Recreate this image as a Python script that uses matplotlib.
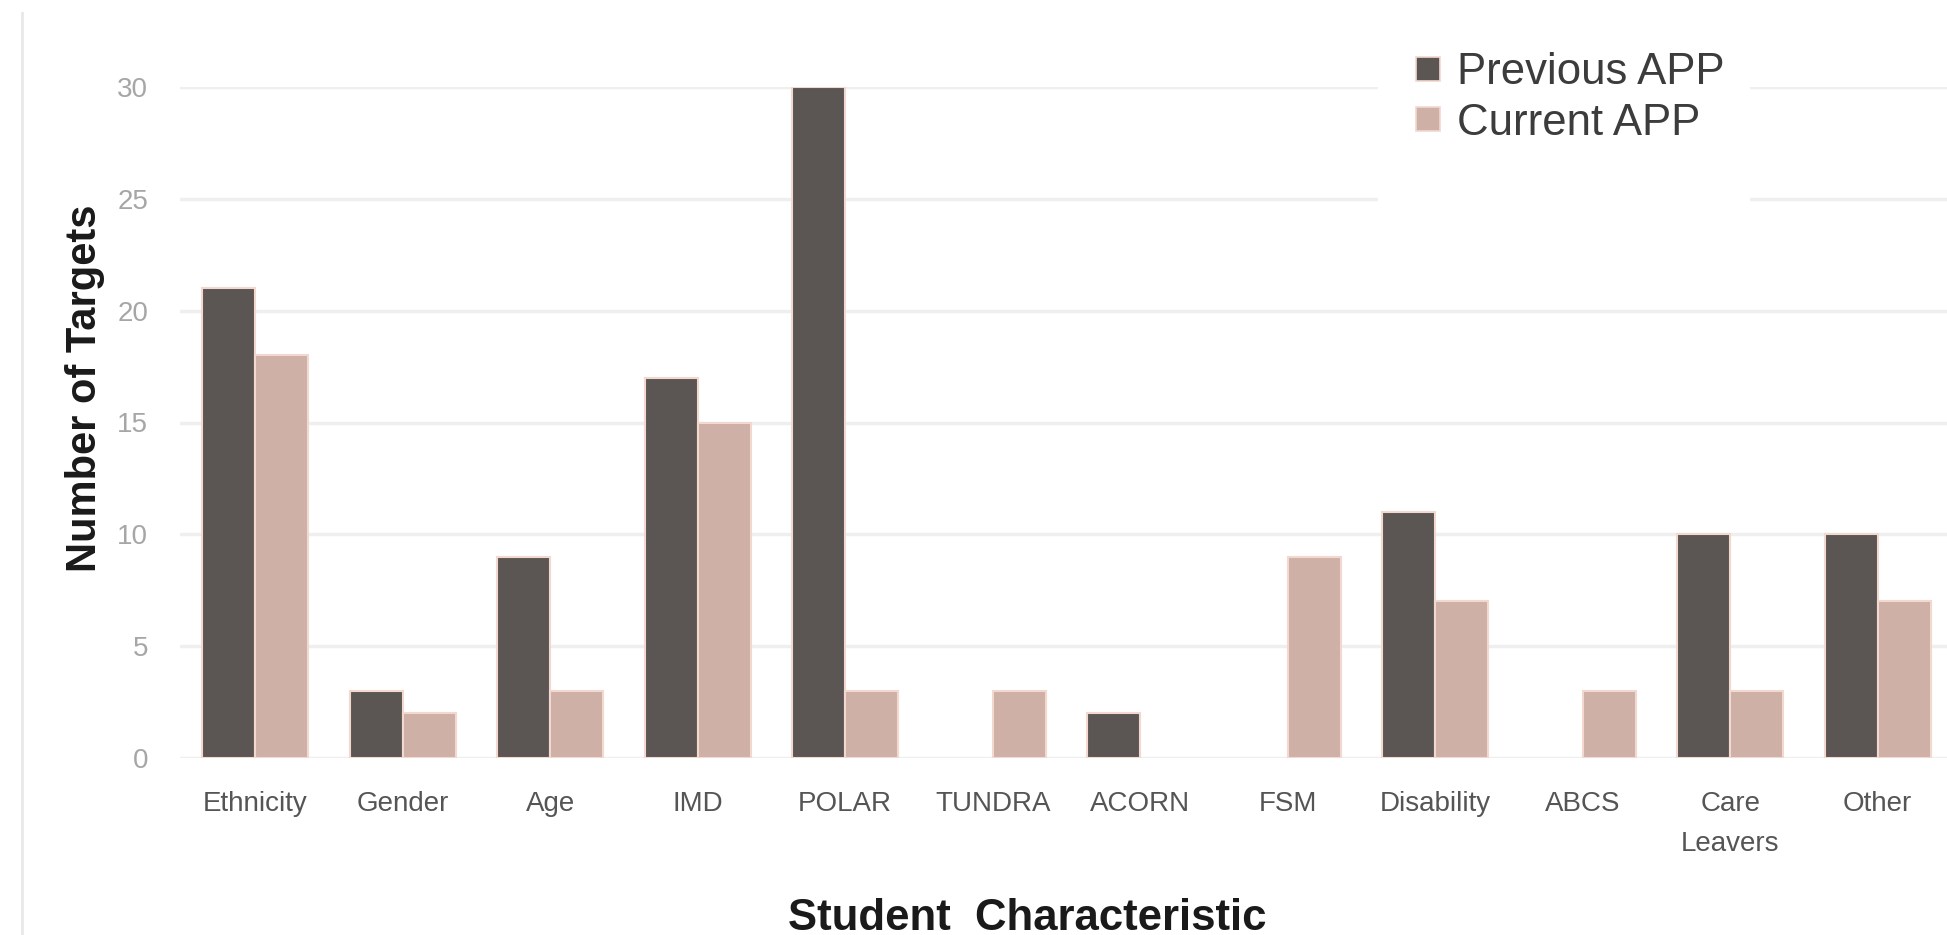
import matplotlib
matplotlib.use("Agg")
import matplotlib.pyplot as plt
import numpy as np
from matplotlib.lines import Line2D
from matplotlib.patches import Rectangle

plt.rcParams['font.family'] = ['Liberation Sans', 'DejaVu Sans']

categories = ["Ethnicity", "Gender", "Age", "IMD", "POLAR", "TUNDRA", "ACORN",
              "FSM", "Disability", "ABCS", "Care\nLeavers", "Other"]
previous_app = [21, 3, 9, 17, 30, 0, 2, 0, 11, 0, 10, 10]
current_app = [18, 2, 3, 15, 3, 3, 0, 9, 7, 3, 3, 7]
y_ticks = [0, 5, 10, 15, 20, 25, 30]

W, H = 1947, 935
fig = plt.figure(figsize=(W / 100, H / 100), dpi=100)
fig.patch.set_facecolor("white")

ax = fig.add_axes([180 / W, (H - 758) / H, 1 - 180 / W, (758 - 87) / H])

dark = "#5b5653"
pink = "#cfb0a6"
edge = "#f3d8cf"
x = np.arange(len(categories))
bw = 0.36


def edges(values):
    # no outline on empty bars
    return [edge if v > 0 else "none" for v in values]


ax.bar(x - bw / 2, previous_app, bw, color=dark, edgecolor=edges(previous_app),
       linewidth=1.5, label="Previous APP", zorder=2)
ax.bar(x + bw / 2, current_app, bw, color=pink, edgecolor=edges(current_app),
       linewidth=1.5, label="Current APP", zorder=2)

ax.set_xlim(-0.51, 11.47)
ax.set_ylim(0, 30)
ax.set_yticks(y_ticks)
ax.set_xticks(x)
ax.set_xticklabels(categories, fontsize=20, color="#555555", linespacing=1.68)
ax.tick_params(axis="y", labelsize=20, labelcolor="#a6a6a6", length=0, pad=23)
ax.tick_params(axis="x", length=0, pad=24)

ax.grid(axis="y", color="#efefef", linewidth=2.5, zorder=0)
ax.set_axisbelow(True)
for s in ax.spines.values():
    s.set_visible(False)

# white panel behind the legend, interrupting the gridlines
ax.add_patch(Rectangle((1378, H - 215), 372, 185, transform=None,
                       facecolor="white", edgecolor="none", zorder=1.5))

handles = [Line2D([], [], marker="s", linestyle="none", markersize=17,
                  markerfacecolor=c, markeredgecolor=edge, markeredgewidth=1.2)
           for c in (dark, pink)]
leg = fig.legend(handles, ["Previous APP", "Current APP"],
                 loc="upper left", bbox_to_anchor=(1415 / W, (H - 52) / H),
                 frameon=False, fontsize=31.5, labelcolor="#3c3c3c",
                 handlelength=0.6, handletextpad=0.35, labelspacing=0.22,
                 borderpad=0, borderaxespad=0)

fig.text(85 / W, (H - 388) / H, "Number of Targets", rotation=90,
         fontsize=30, fontweight="bold", color="#1a1a1a",
         ha="center", va="center")
fig.text(1027 / W, (H - 918) / H, "Student  Characteristic",
         fontsize=31.5, fontweight="bold", color="#1a1a1a",
         ha="center", va="center")

# outer frame edge on the left
fig.add_artist(Line2D([22 / W, 22 / W], [0, (H - 13) / H],
                      transform=fig.transFigure, color="#e8e8e8", linewidth=2))

fig.savefig("out.png", dpi=100, facecolor="white")
